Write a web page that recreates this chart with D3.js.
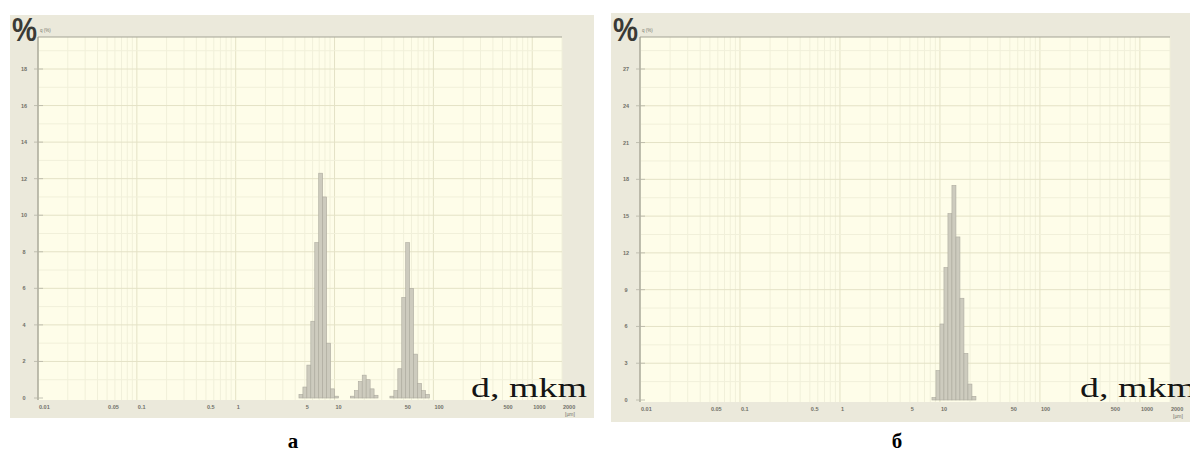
<!DOCTYPE html>
<html>
<head>
<meta charset="utf-8">
<script src="https://cdn.jsdelivr.net/npm/d3@7"></script>
<style>
  body { margin: 0; background: #fff; }
  svg { display: block; }
</style>
</head>
<body>
<svg id="chart" width="1190" height="457"></svg>
<script>
// x axis (particle size, µm, log)
const xTickValues = [0.01, 0.05, 0.1, 0.5, 1, 5, 10, 50, 100, 500, 1000, 2000];
const xTickLabels = ['0.01', '0.05', '0.1', '0.5', '1', '5', '10', '50', '100', '500', '1000', '2000'];

// y axis ticks (%)
const yTicksA = [0, 2, 4, 6, 8, 10, 12, 14, 16, 18];
const yTicksB = [0, 3, 6, 9, 12, 15, 18, 21, 24, 27];

// histogram bins: lower edge of each bin (µm) and its share (%)
const sizesA = [4.365, 4.786, 5.248, 5.754, 6.310, 6.918, 7.586, 8.318, 9.120, 10.0,
  14.454, 15.849, 17.378, 19.055, 20.893, 22.909, 25.119,
  36.308, 39.811, 43.652, 47.863, 52.481, 57.544, 63.096, 69.183, 75.858, 83.176];
const pctA = [0.2, 0.6, 1.8, 4.2, 8.5, 12.3, 11.0, 3.0, 0.5, 0.1,
  0.1, 0.4, 0.9, 1.25, 1.0, 0.5, 0.15,
  0.1, 0.4, 1.6, 5.5, 8.5, 6.0, 2.4, 0.8, 0.4, 0.2];

const sizesB = [8.318, 9.120, 10.0, 10.965, 12.023, 13.183, 14.454, 15.849, 17.378, 19.055, 20.893];
const pctB = [0.2, 2.4, 6.2, 10.8, 15.2, 17.5, 13.3, 8.3, 3.8, 1.3, 0.3];

const binRatio = Math.pow(10, 1 / 25);

const svg = d3.select('#chart');

const panels = [
  {
    box: { x: 10, y: 15, w: 584, h: 403 },
    plot: { l: 38, r: 562, t: 37, b: 400 },
    y0: 398, yTopPx: 69, yMax: 18, yTicks: yTicksA,
    sizes: sizesA, pct: pctA,
    caption: 'а', capX: 293, dX: 471
  },
  {
    box: { x: 611, y: 13, w: 590, h: 409 },
    plot: { l: 640, r: 1170, t: 37, b: 402 },
    y0: 400, yTopPx: 69, yMax: 27, yTicks: yTicksB,
    sizes: sizesB, pct: pctB,
    caption: 'б', capX: 897, dX: 1080
  }
];

panels.forEach(p => drawPanel(p));

function drawPanel(p) {
  const g = svg.append('g');
  const x = d3.scaleLog().domain([0.01, 2000]).range([p.plot.l, p.plot.r]);
  const y = d3.scaleLinear().domain([0, p.yMax]).range([p.y0, p.yTopPx]);
  const step = p.yTicks[1] - p.yTicks[0];

  // frame + plot area
  g.append('rect')
    .attr('x', p.box.x).attr('y', p.box.y)
    .attr('width', p.box.w).attr('height', p.box.h)
    .attr('fill', '#ebe9db');
  g.append('rect')
    .attr('x', p.plot.l).attr('y', p.plot.t)
    .attr('width', p.plot.r - p.plot.l).attr('height', p.plot.b - p.plot.t)
    .attr('fill', '#fefde9');

  // vertical grid (log subdivisions)
  const vLines = [];
  [0.01, 0.1, 1, 10, 100, 1000].forEach(dec => {
    for (let m = 1; m <= 9; m++) {
      const v = dec * m;
      if (v <= 2000) vLines.push({ v, major: m === 1 });
    }
  });
  g.selectAll('.vgrid').data(vLines).enter().append('line')
    .attr('x1', d => x(d.v)).attr('x2', d => x(d.v))
    .attr('y1', p.plot.t).attr('y2', p.plot.b)
    .attr('stroke', d => d.major ? '#e4e2c6' : '#f1f0da')
    .attr('stroke-width', 1);

  // horizontal grid
  const hLines = [];
  for (let v = step / 2; y(v) >= p.plot.t; v += step / 2) {
    hLines.push({ v, major: Math.abs(v / step - Math.round(v / step)) < 1e-6 });
  }
  g.selectAll('.hgrid').data(hLines).enter().append('line')
    .attr('x1', p.plot.l).attr('x2', p.plot.r)
    .attr('y1', d => y(d.v)).attr('y2', d => y(d.v))
    .attr('stroke', d => d.major ? '#e4e2c6' : '#f1f0da')
    .attr('stroke-width', 1);

  // histogram bars
  const bins = p.sizes.map((s, i) => ({ lo: s, hi: s * binRatio, v: p.pct[i] }));
  g.selectAll('.bar').data(bins).enter().append('rect')
    .attr('x', d => x(d.lo))
    .attr('width', d => x(d.hi) - x(d.lo))
    .attr('y', d => y(d.v))
    .attr('height', d => y(0) - y(d.v))
    .attr('fill', '#cdcbbe')
    .attr('stroke', '#acaa9e')
    .attr('stroke-width', 0.6);

  // axes lines
  g.append('line')
    .attr('x1', p.plot.l).attr('x2', p.plot.r)
    .attr('y1', p.plot.t).attr('y2', p.plot.t)
    .attr('stroke', '#a4a396').attr('stroke-width', 1.2);
  g.append('line')
    .attr('x1', p.plot.l).attr('x2', p.plot.l)
    .attr('y1', p.plot.t).attr('y2', p.plot.b)
    .attr('stroke', '#9d9c90').attr('stroke-width', 1.2);

  // y ticks + labels
  g.selectAll('.ytick').data(p.yTicks).enter().append('line')
    .attr('x1', p.plot.l - 4).attr('x2', p.plot.l + 5)
    .attr('y1', d => y(d)).attr('y2', d => y(d))
    .attr('stroke', '#b5b4a6').attr('stroke-width', 0.8);
  g.selectAll('.ylab').data(p.yTicks).enter().append('text')
    .attr('x', p.plot.l - 14).attr('y', d => y(d) + 2)
    .attr('text-anchor', 'middle')
    .attr('font-family', 'Arial, Liberation Sans, sans-serif')
    .attr('font-size', 5.5).attr('font-weight', 'bold')
    .attr('fill', '#707068')
    .text(d => d);

  // x labels
  g.selectAll('.xlab').data(xTickValues).enter().append('text')
    .attr('x', d => x(d) + 1).attr('y', p.plot.b + 9)
    .attr('font-family', 'Arial, Liberation Sans, sans-serif')
    .attr('font-size', 5.5).attr('font-weight', 'bold')
    .attr('fill', '#707068')
    .text((d, i) => xTickLabels[i]);
  g.append('text')
    .attr('x', x(2000) + 3).attr('y', p.plot.b + 16)
    .attr('font-family', 'Arial, Liberation Sans, sans-serif')
    .attr('font-size', 5).attr('fill', '#707068')
    .text('[µm]');

  // % sign and tiny unit
  g.append('text')
    .attr('x', p.box.x + 2).attr('y', p.plot.t + 4)
    .attr('font-family', 'Liberation Sans, Arial, sans-serif')
    .attr('font-size', 34).attr('font-weight', 'bold')
    .attr('fill', '#3a3a36')
    .attr('textLength', 25).attr('lengthAdjust', 'spacingAndGlyphs')
    .text('%');
  g.append('text')
    .attr('x', p.plot.l + 2).attr('y', p.plot.t - 5)
    .attr('font-family', 'Arial, Liberation Sans, sans-serif')
    .attr('font-size', 4.5).attr('fill', '#77776e')
    .text('q (%)');

  // axis name
  g.append('text')
    .attr('x', p.dX).attr('y', 397)
    .attr('font-family', 'Liberation Serif, Times New Roman, serif')
    .attr('font-size', 28)
    .attr('fill', '#151515')
    .attr('textLength', 116).attr('lengthAdjust', 'spacingAndGlyphs')
    .text('d, mkm');

  // caption
  svg.append('text')
    .attr('x', p.capX).attr('y', 448)
    .attr('text-anchor', 'middle')
    .attr('font-family', 'Liberation Serif, Times New Roman, serif')
    .attr('font-size', 21).attr('font-weight', 'bold')
    .attr('fill', '#000')
    .text(p.caption);
}
</script>
</body>
</html>
